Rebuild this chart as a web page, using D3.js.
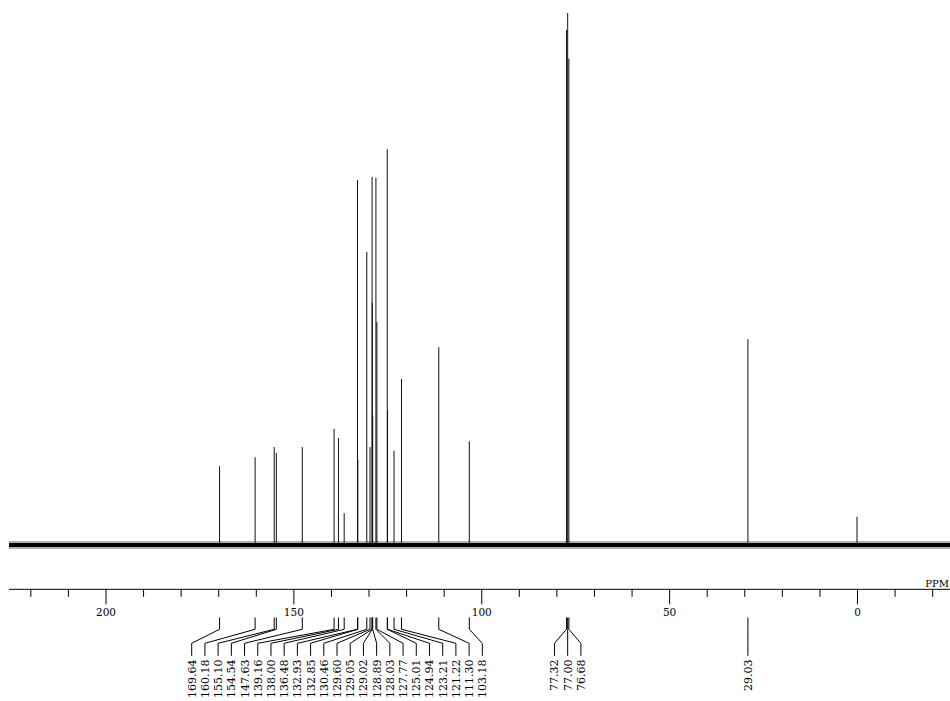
<!DOCTYPE html>
<html>
<head>
<meta charset="utf-8">
<script src="https://cdn.jsdelivr.net/npm/d3@7"></script>
<style>
  html, body { margin: 0; padding: 0; background: #fff; }
  svg { display: block; }
  text { font-family: "DejaVu Serif", serif; fill: #000; }
</style>
</head>
<body>
<svg id="chart" width="950" height="701"></svg>
<script>
// ---- data (13C NMR peak list, ppm) ----
const peakShifts = [169.64, 160.18, 155.10, 154.54, 147.63, 139.16, 138.00, 136.48, 132.93, 132.85,
  130.46, 129.60, 129.05, 129.02, 128.89, 128.03, 127.77, 125.01, 124.94, 123.21, 121.22, 111.30,
  103.18, 77.32, 77.00, 76.68, 29.03, 0.00];
// relative intensity (% of tallest peak)
const peakIntensities = [14.8, 16.5, 18.4, 17.3, 18.4, 21.8, 20.1, 6.0, 68.6, 16.0,
  55.1, 18.4, 69.2, 45.5, 24.4, 69.0, 41.9, 74.4, 25.4, 17.7, 31.2, 37.2,
  19.5, 96.8, 100, 91.4, 38.7, 5.3];
// labelled peaks, grouped as in the annotation tree
const labelGroup1 = ["169.64", "160.18", "155.10", "154.54", "147.63", "139.16", "138.00", "136.48",
  "132.93", "132.85", "130.46", "129.60", "129.05", "129.02", "128.89", "128.03", "127.77", "125.01",
  "124.94", "123.21", "121.22", "111.30", "103.18"];
const labelGroup2 = ["77.32", "77.00", "76.68"];
const labelGroup3 = ["29.03"];
const majorTicks = [200, 150, 100, 50, 0];
const minorTicks = [220, 210, 190, 180, 170, 160, 140, 130, 120, 110, 90, 80, 70, 60, 40, 30, 20, 10, -10, -20];
const axisUnit = "PPM";

// ---- layout ----
const svg = d3.select("#chart");
const x = d3.scaleLinear().domain([200, 0]).range([105.5, 857]);
const y = d3.scaleLinear().domain([0, 100]).range([545, 13]);
const leftX = 9, rightX = 950;
const axisY = 589.3;

// baseline noise band
svg.append("line")
  .attr("x1", leftX).attr("x2", rightX)
  .attr("y1", y(0)).attr("y2", y(0))
  .attr("stroke", "#000").attr("stroke-width", 8).attr("opacity", 0.3);
svg.append("line")
  .attr("x1", leftX).attr("x2", rightX)
  .attr("y1", y(0)).attr("y2", y(0))
  .attr("stroke", "#000").attr("stroke-width", 4);

// peaks
const peaks = peakShifts.map((s, i) => ({ s, v: peakIntensities[i] }));
svg.append("g").selectAll("line").data(peaks).join("line")
  .attr("x1", d => x(d.s)).attr("x2", d => x(d.s))
  .attr("y1", y(0)).attr("y2", d => y(d.v))
  .attr("stroke", "#111").attr("stroke-width", 1);

// axis
svg.append("line")
  .attr("x1", leftX).attr("x2", rightX)
  .attr("y1", axisY).attr("y2", axisY)
  .attr("stroke", "#000").attr("stroke-width", 1);
const gMinor = svg.append("g").attr("transform", `translate(0,${axisY})`)
  .call(d3.axisBottom(x).tickValues(minorTicks).tickSize(7.5).tickFormat(""));
const gMajor = svg.append("g").attr("transform", `translate(0,${axisY})`)
  .call(d3.axisBottom(x).tickValues(majorTicks).tickSize(15).tickPadding(4).tickFormat(d3.format("d")));
[gMinor, gMajor].forEach(g => {
  g.select(".domain").remove();
  g.selectAll(".tick line").attr("stroke", "#000");
  g.selectAll(".tick text").attr("font-family", "DejaVu Serif").attr("font-size", 10.5).attr("fill", "#000");
});
svg.append("text").attr("x", 949).attr("y", 587)
  .attr("text-anchor", "end")
  .attr("font-size", 10).text(axisUnit);

// annotation tree
const spacing = 13.21;
const groups = [
  { labels: labelGroup1, startX: 191.7 },
  { labels: labelGroup2, startX: x(+labelGroup2[1]) - spacing },
  { labels: labelGroup3, startX: x(+labelGroup3[0]) }
];
const yTop = 617.5, yKnee1 = 629.3, yKnee2 = 643.3, yBottom = 655.8, yText = 659.5;
const tree = svg.append("g");
groups.forEach(gr => {
  gr.labels.forEach((lab, i) => {
    const px = x(+lab);
    const lx = gr.startX + i * spacing;
    tree.append("path")
      .attr("d", d3.line()([[px, yTop], [px, yKnee1], [lx, yKnee2], [lx, yBottom]]))
      .attr("fill", "none").attr("stroke", "#000").attr("stroke-width", 1);
    tree.append("text")
      .attr("transform", `translate(${lx},${yText}) rotate(-90)`)
      .attr("text-anchor", "end").attr("dy", "0.36em")
      .attr("font-size", 11).text(lab);
  });
});
</script>
</body>
</html>
